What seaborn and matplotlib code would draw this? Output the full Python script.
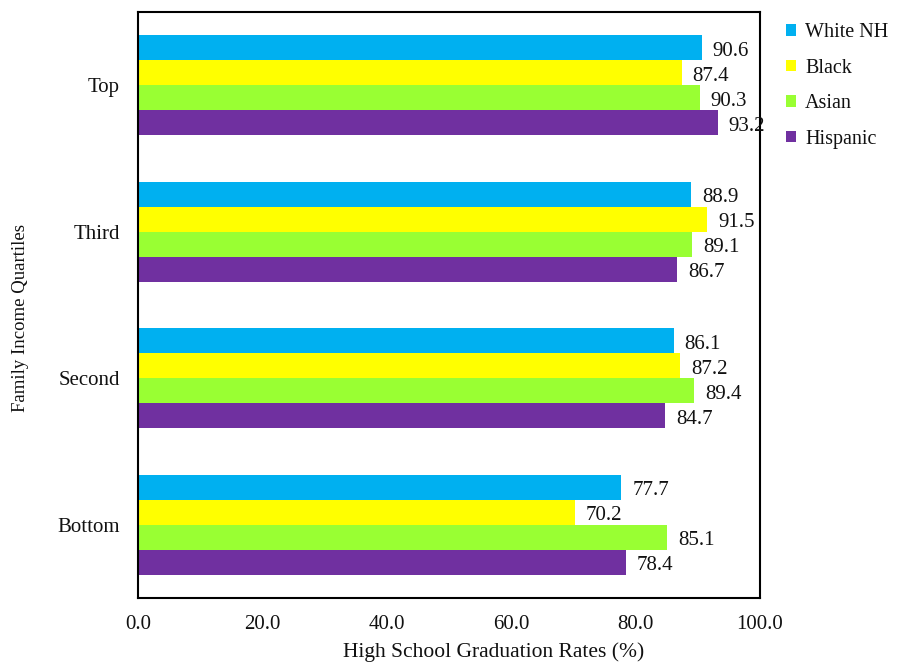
import matplotlib
matplotlib.use("Agg")
import matplotlib.pyplot as plt
import seaborn as sns
import pandas as pd

# Graduation rates by family income quartile and group
quartiles = ["Top", "Third", "Second", "Bottom"]
groups = ["White NH", "Black", "Asian", "Hispanic"]
white_nh = [90.6, 88.9, 86.1, 77.7]
black = [87.4, 91.5, 87.2, 70.2]
asian = [90.3, 89.1, 89.4, 85.1]
hispanic = [93.2, 86.7, 84.7, 78.4]
x_ticks = [0, 20, 40, 60, 80, 100]

colors = ["#00B0F0", "#FFFF00", "#99FF33", "#7030A0"]

series = [white_nh, black, asian, hispanic]
rows = []
for g, vals in zip(groups, series):
    for q, v in zip(quartiles, vals):
        rows.append({"Quartile": q, "Group": g, "Rate": v})
df = pd.DataFrame(rows)

sns.set_theme(style="white")
plt.rcParams["font.family"] = ["Liberation Serif", "DejaVu Serif"]

fig = plt.figure(figsize=(8.98, 6.62), dpi=100)
ax = fig.add_axes([138 / 898, 1 - 598 / 662, 622 / 898, 586 / 662])

sns.barplot(data=df, y="Quartile", x="Rate", hue="Group",
            order=quartiles, hue_order=groups, palette=colors,
            orient="h", width=0.68, errorbar=None, linewidth=0,
            saturation=1, ax=ax, legend=True)

# value labels just right of each bar end, nudged slightly downward
for cont in ax.containers:
    for patch in cont:
        val = patch.get_width()
        yc = patch.get_y() + patch.get_height() / 2
        ax.annotate(f"{val:.1f}", xy=(val, yc), xytext=(8, -2.5),
                    textcoords="offset points", ha="left", va="center",
                    fontsize=15, color="#111111", annotation_clip=False)

ax.set_xlim(0, 100)
ax.set_xticks(x_ticks)
ax.set_xticklabels([f"{t:.1f}" for t in x_ticks], fontsize=15)
ax.tick_params(axis="y", labelsize=15, length=0, pad=13)
ax.tick_params(axis="x", length=0, pad=12)
for lbl in ax.get_yticklabels() + ax.get_xticklabels():
    lbl.set_color("#111111")

ax.set_xlabel("High School Graduation Rates (%)", fontsize=15.5,
              color="#111111")
ax.xaxis.set_label_coords(0.571, -0.075)
ax.set_ylabel("Family Income Quartiles", fontsize=13.5, color="#111111")
ax.yaxis.set_label_coords(-0.175, 0.478)

for s in ax.spines.values():
    s.set_visible(True)
    s.set_color("black")
    s.set_linewidth(1.5)

handles, labels = ax.get_legend_handles_labels()
leg = ax.legend(handles, labels, loc="upper left",
                bbox_to_anchor=(786 / 898, 1 - 23 / 662),
                bbox_transform=fig.transFigure, frameon=False,
                fontsize=14.5, handlelength=0.5, handleheight=0.5,
                handletextpad=0.45, labelspacing=0.82, borderaxespad=0,
                borderpad=0)
for t in leg.get_texts():
    t.set_color("#111111")

fig.savefig("out.png", dpi=100)
